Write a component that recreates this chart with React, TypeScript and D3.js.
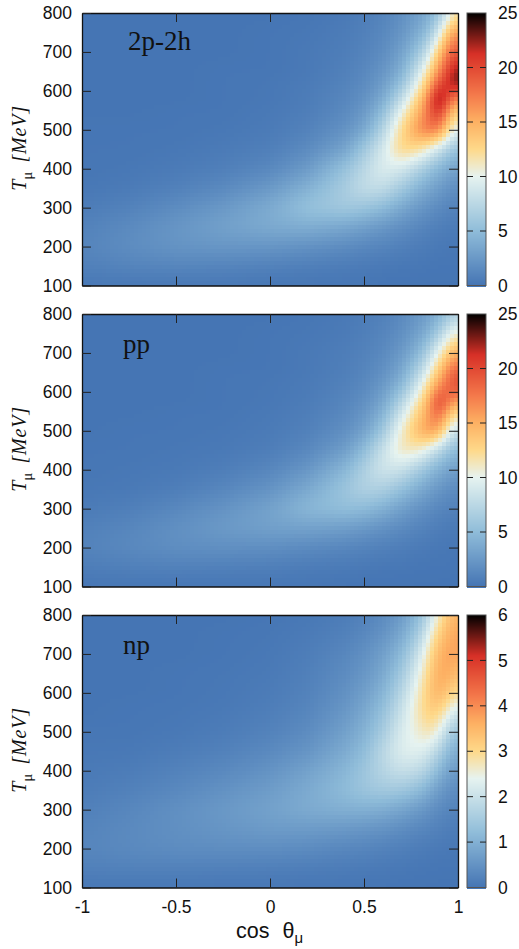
import * as d3 from "d3";
import React, { useEffect, useRef } from "react";

const cosTheta = [-1, -0.75, -0.5, -0.25, 0, 0.2, 0.4, 0.5, 0.6, 0.7, 0.8, 0.85, 0.9, 0.95, 1];
const tMu = [800, 750, 700, 650, 625, 600, 575, 550, 500, 450, 400, 350, 300, 250, 200, 150, 100];

const xTicks = [-1, -0.5, 0, 0.5, 1];
const yTicks = [100, 200, 300, 400, 500, 600, 700, 800];

// values, one row per tMu entry
const sigma2p2h = [
  [0, 0, 0, 0, 0, 0.1, 0.3, 0.6, 1, 1.8, 3, 3.8, 5.5, 8.5, 13],
  [0, 0, 0, 0, 0.1, 0.2, 0.5, 0.8, 1.3, 2.2, 4, 5.5, 9, 14.5, 17],
  [0, 0, 0, 0, 0.1, 0.3, 0.6, 1, 1.6, 3, 6, 9, 13.5, 18, 20],
  [0, 0, 0, 0.1, 0.1, 0.3, 0.8, 1.3, 2.2, 4, 9, 12.5, 17, 20.5, 24],
  [0, 0, 0, 0.1, 0.2, 0.4, 0.9, 1.5, 2.6, 5, 10.5, 14.5, 19.5, 21, 25],
  [0, 0, 0, 0.1, 0.2, 0.5, 1.1, 1.7, 3.1, 6.5, 12, 16, 23, 20.5, 20],
  [0, 0, 0, 0.1, 0.2, 0.5, 1.2, 2, 3.8, 8, 14, 18, 26, 18, 15.5],
  [0, 0, 0.1, 0.1, 0.3, 0.6, 1.4, 2.4, 4.8, 10, 15, 18.5, 23, 15.5, 12.5],
  [0.1, 0.1, 0.1, 0.2, 0.4, 0.9, 2, 3.4, 7, 12.5, 17, 18, 17.5, 12, 8.5],
  [0.1, 0.1, 0.2, 0.4, 0.7, 1.5, 3.2, 6, 9, 13, 12, 10, 8.5, 6.5, 5],
  [0.1, 0.2, 0.4, 0.7, 1.3, 2.6, 5.5, 7.5, 9.5, 9, 6.8, 5.5, 4.5, 3.5, 3],
  [0.2, 0.4, 0.8, 1.4, 2.5, 4.2, 6.5, 8, 8, 6.2, 4.2, 3.4, 2.8, 2, 1.6],
  [0.5, 0.9, 1.6, 2.5, 3.8, 5.5, 6.2, 5.8, 5, 3.6, 2.4, 1.9, 1.5, 1.1, 0.9],
  [0.9, 1.5, 2.3, 3.1, 3.8, 4, 3.5, 3, 2.4, 1.8, 1.2, 0.9, 0.7, 0.5, 0.4],
  [1.1, 1.7, 2.2, 2.4, 2.3, 2, 1.6, 1.3, 1.1, 0.8, 0.5, 0.4, 0.3, 0.2, 0.2],
  [0.8, 1.1, 1.2, 1.1, 0.9, 0.7, 0.5, 0.4, 0.3, 0.2, 0.2, 0.1, 0.1, 0.1, 0.1],
  [0.2, 0.2, 0.2, 0.2, 0.1, 0.1, 0.1, 0.1, 0, 0, 0, 0, 0, 0, 0],
];

const sigmaPP = [
  [0, 0, 0, 0, 0, 0.1, 0.3, 0.5, 0.8, 1.4, 2.4, 3, 4, 5.5, 7],
  [0, 0, 0, 0, 0.1, 0.2, 0.4, 0.7, 1.1, 1.8, 3.2, 4.5, 6.5, 9.5, 11.5],
  [0, 0, 0, 0, 0.1, 0.3, 0.6, 0.9, 1.4, 2.5, 4.8, 7.5, 10.5, 13.5, 16],
  [0, 0, 0, 0.1, 0.1, 0.3, 0.7, 1.1, 1.9, 3.5, 7.5, 10.5, 14, 17.5, 20],
  [0, 0, 0, 0.1, 0.2, 0.4, 0.8, 1.3, 2.3, 4.3, 9, 12.5, 16, 18, 21],
  [0, 0, 0, 0.1, 0.2, 0.4, 1, 1.5, 2.8, 5.5, 10.5, 14, 18.5, 18.5, 19],
  [0, 0, 0, 0.1, 0.2, 0.5, 1.1, 1.8, 3.3, 7, 12, 15.5, 22, 17, 15],
  [0, 0, 0.1, 0.1, 0.3, 0.6, 1.3, 2.2, 4, 8.5, 13.5, 16, 20, 14.5, 12],
  [0, 0.1, 0.1, 0.2, 0.4, 0.8, 1.8, 3, 5.8, 11, 15, 16.5, 15.5, 10, 7],
  [0.1, 0.1, 0.2, 0.3, 0.6, 1.3, 2.8, 5, 8.4, 11.5, 11, 9, 7.5, 5.5, 4.5],
  [0.1, 0.2, 0.3, 0.6, 1.2, 2.3, 4.6, 6.8, 8.8, 8.4, 6.2, 5, 4, 3.2, 2.7],
  [0.2, 0.3, 0.6, 1.2, 2.1, 3.6, 5.8, 7, 6.8, 5.4, 3.7, 3, 2.3, 1.8, 1.4],
  [0.4, 0.7, 1.3, 2.1, 3.2, 4.7, 5.3, 5, 4.2, 3, 2, 1.6, 1.2, 1, 0.8],
  [0.8, 1.2, 1.9, 2.6, 3.1, 3.2, 2.9, 2.5, 2, 1.5, 1, 0.8, 0.6, 0.4, 0.3],
  [1, 1.4, 1.8, 1.9, 1.8, 1.5, 1.2, 1, 0.8, 0.6, 0.4, 0.3, 0.2, 0.2, 0.1],
  [0.6, 0.8, 0.9, 0.8, 0.7, 0.5, 0.4, 0.3, 0.2, 0.2, 0.1, 0.1, 0.1, 0.1, 0],
  [0.1, 0.1, 0.1, 0.1, 0.1, 0.1, 0, 0, 0, 0, 0, 0, 0, 0, 0],
];

const sigmaNP = [
  [0, 0, 0, 0, 0.02, 0.05, 0.12, 0.2, 0.35, 0.6, 1.2, 1.8, 2.7, 3.3, 3.65],
  [0, 0, 0, 0.02, 0.04, 0.1, 0.2, 0.32, 0.5, 0.85, 1.6, 2.5, 3.2, 3.6, 3.8],
  [0, 0, 0, 0.02, 0.06, 0.14, 0.3, 0.45, 0.7, 1.15, 2.1, 2.95, 3.55, 3.8, 3.7],
  [0, 0, 0.02, 0.04, 0.08, 0.18, 0.38, 0.55, 0.85, 1.45, 2.45, 3.2, 3.7, 3.7, 3.25],
  [0, 0, 0.02, 0.05, 0.1, 0.2, 0.42, 0.62, 0.95, 1.6, 2.6, 3.3, 3.65, 3.5, 3.05],
  [0, 0, 0.02, 0.05, 0.11, 0.22, 0.46, 0.7, 1.05, 1.75, 2.72, 3.35, 3.6, 3.25, 2.75],
  [0, 0.02, 0.03, 0.06, 0.13, 0.25, 0.52, 0.78, 1.15, 1.9, 2.8, 3.3, 3.35, 2.95, 2.3],
  [0, 0.02, 0.04, 0.08, 0.16, 0.28, 0.58, 0.85, 1.3, 2, 2.85, 3.2, 3.1, 2.5, 1.8],
  [0.03, 0.03, 0.06, 0.12, 0.22, 0.38, 0.72, 1.02, 1.5, 2.25, 2.6, 2.9, 2.4, 1.7, 1.15],
  [0.05, 0.06, 0.12, 0.2, 0.34, 0.52, 0.9, 1.2, 1.8, 2.3, 2.35, 2.1, 1.7, 1.15, 0.8],
  [0.08, 0.12, 0.22, 0.33, 0.5, 0.75, 1.1, 1.4, 1.75, 2, 1.85, 1.55, 1.1, 0.75, 0.55],
  [0.12, 0.2, 0.32, 0.48, 0.66, 0.9, 1.2, 1.4, 1.5, 1.45, 1.2, 0.9, 0.65, 0.45, 0.35],
  [0.18, 0.3, 0.45, 0.6, 0.76, 0.92, 1, 1, 0.95, 0.8, 0.6, 0.48, 0.35, 0.28, 0.2],
  [0.25, 0.35, 0.45, 0.55, 0.65, 0.65, 0.6, 0.55, 0.5, 0.4, 0.3, 0.25, 0.2, 0.15, 0.1],
  [0.28, 0.35, 0.4, 0.42, 0.42, 0.38, 0.3, 0.28, 0.22, 0.18, 0.12, 0.1, 0.08, 0.06, 0.05],
  [0.2, 0.22, 0.22, 0.2, 0.18, 0.15, 0.12, 0.1, 0.08, 0.06, 0.04, 0.03, 0.02, 0.02, 0.02],
  [0.04, 0.04, 0.04, 0.03, 0.03, 0.02, 0.02, 0.01, 0.01, 0, 0, 0, 0, 0, 0],
];

const panelLabels = ["2p-2h", "pp", "np"];
const panelTops = [13, 314, 615];
const panelMax = [25, 25, 6];
const panelGrids = [sigma2p2h, sigmaPP, sigmaNP];
const barTicks = [
  [0, 5, 10, 15, 20, 25],
  [0, 5, 10, 15, 20, 25],
  [0, 1, 2, 3, 4, 5, 6],
];

const paletteStops = [0, 0.2, 0.4, 0.5, 0.6, 0.7, 0.85, 1];
const paletteColors = ["#4575b4", "#8fbcd9", "#e6f3f0", "#fed98a", "#fdb163", "#f4794b", "#d73027", "#000000"];

const plotWidth = 376;
const plotHeight = 272.5;
const left = 82;
const barLeft = 467;
const barWidth = 19;
const cellSize = 4;

const sansFont = "'Liberation Sans', Arial, sans-serif";
const serifFont = "'Liberation Serif', 'Times New Roman', serif";

// smooth the coarse readings across the cells, like pm3d interpolate does
function sampleGrid(grid: number[][], nx: number, ny: number) {
  const colIndex = d3.scaleLinear().domain(cosTheta).range(cosTheta.map((_, i) => i)).clamp(true);
  const rowIndex = d3.scaleLinear().domain(tMu).range(tMu.map((_, i) => i)).clamp(true);
  const field = new Float64Array(nx * ny);
  for (let j = 0; j < ny; j++) {
    const r = rowIndex(800 - ((j + 0.5) / ny) * 700);
    const r0 = Math.min(Math.floor(r), tMu.length - 2);
    for (let i = 0; i < nx; i++) {
      const c = colIndex(-1 + ((i + 0.5) / nx) * 2);
      const c0 = Math.min(Math.floor(c), cosTheta.length - 2);
      const top = d3.interpolateNumber(grid[r0][c0], grid[r0][c0 + 1])(c - c0);
      const bottom = d3.interpolateNumber(grid[r0 + 1][c0], grid[r0 + 1][c0 + 1])(c - c0);
      field[j * nx + i] = d3.interpolateNumber(top, bottom)(r - r0);
    }
  }
  d3.blur2({ data: field, width: nx, height: ny }, 1, 1);
  return field;
}

export default function App() {
  const svgRef = useRef<SVGSVGElement | null>(null);

  useEffect(() => {
    const svg = d3.select(svgRef.current);
    svg.selectAll("*").remove();

    panelTops.forEach((top, p) => {
      const g = svg.append("g").attr("transform", `translate(${left},${top})`);
      const x = d3.scaleLinear().domain([-1, 1]).range([0, plotWidth]);
      const y = d3.scaleLinear().domain([100, 800]).range([plotHeight, 0]);
      const color = d3
        .scaleLinear<string>()
        .domain(paletteStops.map((s) => s * panelMax[p]))
        .range(paletteColors)
        .clamp(true);

      const nx = Math.round(plotWidth / cellSize);
      const ny = Math.round(plotHeight / cellSize);
      const field = sampleGrid(panelGrids[p], nx, ny);
      const cells = d3.range(nx * ny);
      g.append("g")
        .attr("shape-rendering", "crispEdges")
        .selectAll("rect")
        .data(cells)
        .enter()
        .append("rect")
        .attr("x", (d) => Math.floor((d % nx) * (plotWidth / nx)))
        .attr("y", (d) => Math.floor(Math.floor(d / nx) * (plotHeight / ny)))
        .attr("width", (d) => Math.min(Math.ceil(plotWidth / nx) + 1, plotWidth - Math.floor((d % nx) * (plotWidth / nx))))
        .attr("height", (d) => Math.min(Math.ceil(plotHeight / ny) + 1, plotHeight - Math.floor(Math.floor(d / nx) * (plotHeight / ny))))
        .attr("fill", (d) => color(field[d]));

      // gnuplot style ticks: inward on all four sides
      const axes = [
        d3.axisBottom(x).tickValues(xTicks).tickFormat((d) => (p === 2 ? String(d) : "")),
        d3.axisTop(x).tickValues(xTicks).tickFormat(() => ""),
        d3.axisLeft(y).tickValues(yTicks),
        d3.axisRight(y).tickValues(yTicks).tickFormat(() => ""),
      ];
      const offsets = [`translate(0,${plotHeight})`, "translate(0,0)", "translate(0,0)", `translate(${plotWidth},0)`];
      axes.forEach((axis, i) => {
        const a = g
          .append("g")
          .attr("transform", offsets[i])
          .call(axis.tickSizeInner(-9).tickSizeOuter(0).tickPadding(i === 0 ? 13 : 10));
        a.selectAll("path").attr("stroke", "#111").attr("stroke-width", 1.3);
        a.selectAll("line").attr("stroke", "#222").attr("stroke-width", 1);
        a.selectAll("text")
          .attr("font-family", sansFont)
          .attr("font-size", 17.5)
          .attr("fill", "#111");
      });

      g.append("text")
        .attr("x", p === 0 ? 46 : 41)
        .attr("y", p === 0 ? 37 : 39)
        .attr("font-family", serifFont)
        .attr("font-size", 27)
        .attr("fill", "#111")
        .text(panelLabels[p]);

      const yLabel = svg
        .append("text")
        .attr("transform", `translate(${26},${top + 135}) rotate(-90)`)
        .attr("text-anchor", "middle")
        .attr("font-family", serifFont)
        .attr("font-size", 20)
        .attr("fill", "#111");
      yLabel.append("tspan").attr("font-style", "italic").text("T");
      yLabel.append("tspan").attr("dy", 6).attr("font-size", 15).text("μ");
      yLabel
        .append("tspan")
        .attr("dy", -6)
        .attr("font-style", "italic")
        .attr("dx", 9)
        .attr("letter-spacing", 0.8)
        .text("[MeV]");

      // colour bar
      const bar = svg.append("g").attr("transform", `translate(${barLeft},${top})`);
      const vy = d3.scaleLinear().domain([0, panelMax[p]]).range([plotHeight, 0]);
      const steps = d3.range(0, plotHeight, 1);
      bar
        .append("g")
        .attr("shape-rendering", "crispEdges")
        .selectAll("rect")
        .data(steps)
        .enter()
        .append("rect")
        .attr("x", 0)
        .attr("y", (d) => d)
        .attr("width", barWidth)
        .attr("height", 1.5)
        .attr("fill", (d) => color(vy.invert(d + 0.5)));
      bar
        .append("rect")
        .attr("width", barWidth)
        .attr("height", plotHeight)
        .attr("fill", "none")
        .attr("stroke", "#555")
        .attr("stroke-width", 1);

      const barAxis = bar
        .append("g")
        .attr("transform", `translate(${barWidth},0)`)
        .call(d3.axisRight(vy).tickValues(barTicks[p]).tickFormat((d) => String(d)).tickSize(0).tickPadding(12));
      barAxis.select("path").remove();
      barAxis
        .selectAll("text")
        .attr("font-family", sansFont)
        .attr("font-size", 17.5)
        .attr("fill", "#111");
      const inner = barTicks[p].slice(1, -1);
      [0, barWidth - 6].forEach((bx) => {
        bar
          .append("g")
          .selectAll("line")
          .data(inner)
          .enter()
          .append("line")
          .attr("x1", bx)
          .attr("x2", bx + 6)
          .attr("y1", (d) => vy(d))
          .attr("y2", (d) => vy(d))
          .attr("stroke", "#222")
          .attr("stroke-width", 1);
      });
    });

    const xLabel = svg
      .append("text")
      .attr("x", 236)
      .attr("y", 938)
      .attr("font-family", sansFont)
      .attr("font-size", 21.5)
      .attr("fill", "#111");
    xLabel.append("tspan").text("cos");
    xLabel.append("tspan").attr("dx", 13).text("θ");
    xLabel.append("tspan").attr("dy", 5).attr("font-size", 15).text("μ");
  }, []);

  return (
    <svg
      ref={svgRef}
      width={519}
      height={949}
      style={{ position: "absolute", left: 0, top: 0, background: "#fff" }}
    />
  );
}
